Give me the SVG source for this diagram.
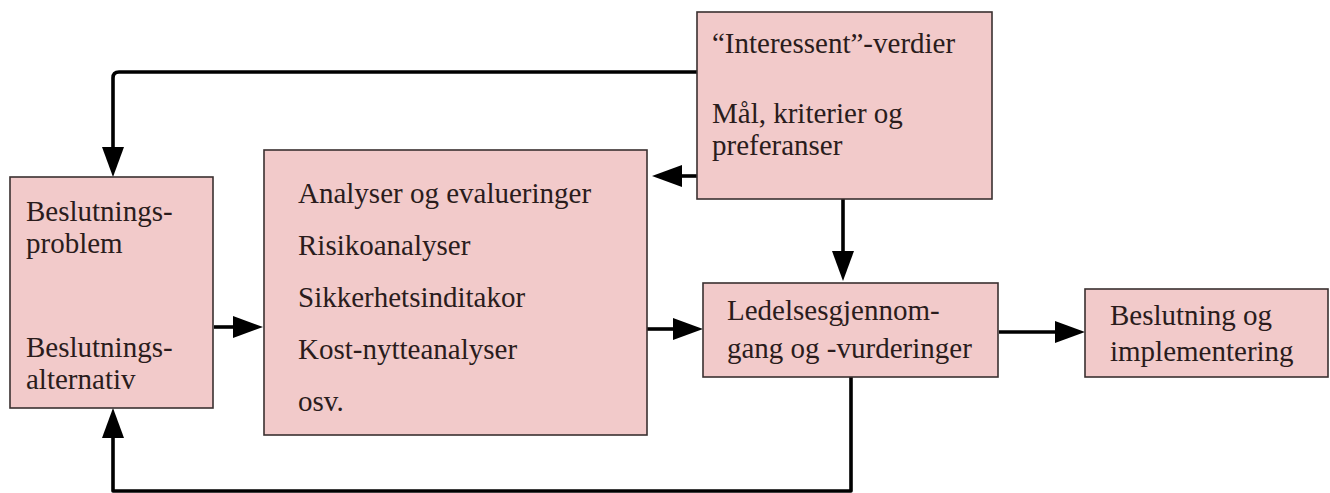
<svg xmlns="http://www.w3.org/2000/svg" width="1330" height="493" viewBox="0 0 1330 493">
<style>
.box{fill:#F2CACA;stroke:#3a3030;stroke-width:1.6}
.t{font-family:"Liberation Serif","Times New Roman",serif;font-size:29px;fill:#2a1c1c}
.c{fill:none;stroke:#000;stroke-width:3.6;stroke-linejoin:round}
</style>
<defs>
<marker id="ah" viewBox="0 -11 30 22" markerWidth="30" markerHeight="22" refX="0" refY="0" orient="auto" markerUnits="userSpaceOnUse">
<path d="M0,-11 L30,0 L0,11 z" fill="#000"/>
</marker>
</defs>
<g id="connectors">
<path class="c" d="M697,72 H119 Q113,72 113,78 V147" marker-end="url(#ah)"/>
<path class="c" d="M697,176 H682" marker-end="url(#ah)"/>
<path class="c" d="M843,199 V251" marker-end="url(#ah)"/>
<path class="c" d="M214,327 H233" marker-end="url(#ah)"/>
<path class="c" d="M647,329 H673" marker-end="url(#ah)"/>
<path class="c" d="M999,332 H1055" marker-end="url(#ah)"/>
<path class="c" d="M851,377 V491 H113 V438" marker-end="url(#ah)"/>
</g>
<g id="interessent">
<rect class="box" x="697" y="12" width="295" height="187"/>
<text class="t" x="712" y="53">“Interessent”-verdier</text>
<text class="t" x="712" y="123">Mål, kriterier og</text>
<text class="t" x="712" y="155">preferanser</text>
</g>
<g id="beslutningsproblem">
<rect class="box" x="10" y="177" width="203" height="231"/>
<text class="t" x="26" y="221">Beslutnings-</text>
<text class="t" x="26" y="253">problem</text>
<text class="t" x="26" y="357">Beslutnings-</text>
<text class="t" x="26" y="389">alternativ</text>
</g>
<g id="analyser">
<rect class="box" x="264" y="150" width="383" height="285"/>
<text class="t" x="298" y="203">Analyser og evalueringer</text>
<text class="t" x="298" y="255">Risikoanalyser</text>
<text class="t" x="298" y="307">Sikkerhetsinditakor</text>
<text class="t" x="298" y="359">Kost-nytteanalyser</text>
<text class="t" x="298" y="411">osv.</text>
</g>
<g id="ledelse">
<rect class="box" x="703" y="283" width="295" height="94"/>
<text class="t" x="727" y="320">Ledelsesgjennom-</text>
<text class="t" x="727" y="358">gang og -vurderinger</text>
</g>
<g id="beslutning">
<rect class="box" x="1085" y="289" width="243" height="88"/>
<text class="t" x="1110" y="325">Beslutning og</text>
<text class="t" x="1110" y="361">implementering</text>
</g>
</svg>
